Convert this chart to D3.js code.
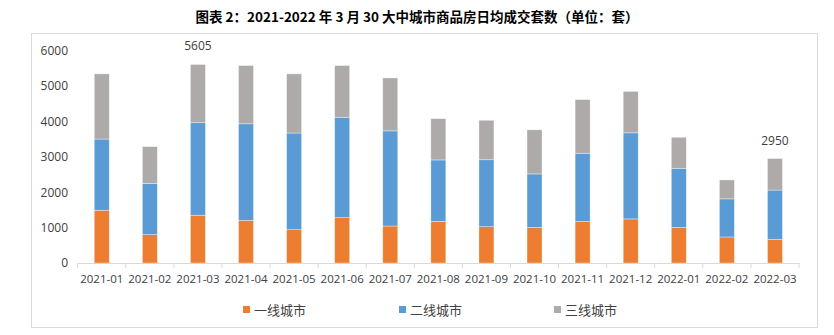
<!DOCTYPE html>
<html>
<head>
<meta charset="utf-8">
<script src="https://cdn.jsdelivr.net/npm/d3@7"></script>
<style>
  body { margin: 0; background: #fff; }
  svg { display: block; font-family: "Noto Sans CJK SC", "Noto Sans", sans-serif; }
</style>
</head>
<body>
<div id="chart"></div>
<script>
// data
var months = ["2021-01", "2021-02", "2021-03", "2021-04", "2021-05", "2021-06", "2021-07", "2021-08",
              "2021-09", "2021-10", "2021-11", "2021-12", "2022-01", "2022-02", "2022-03"];
var tier1 = [1490, 800, 1350, 1200, 940, 1280, 1045, 1175, 1025, 1005, 1170, 1245, 1005, 735, 670];
var tier2 = [2010, 1450, 2610, 2730, 2730, 2835, 2685, 1735, 1890, 1510, 1930, 2430, 1670, 1075, 1390];
var tier3 = [1840, 1035, 1645, 1645, 1670, 1460, 1495, 1165, 1115, 1245, 1515, 1170, 875, 535, 890];
var seriesNames = ["一线城市", "二线城市", "三线城市"];
var yTicks = [0, 1000, 2000, 3000, 4000, 5000, 6000];
var labelled = { "2021-03": 5605, "2022-03": 2950 };

var colors = ["#ED7D31", "#5B9BD5", "#AEAAAA"];
var W = 834, H = 335;

var rows = months.map(function(m, i) {
  return { month: m, a: tier1[i], b: tier2[i], c: tier3[i] };
});

var svg = d3.select("#chart").append("svg")
  .attr("width", W).attr("height", H);

// title
svg.append("text")
  .attr("x", 417).attr("y", 22)
  .attr("text-anchor", "middle")
  .style("font-size", "13.5px")
  .style("font-weight", "bold")
  .style("fill", "#000")
  .text("图表 2：2021-2022 年 3 月 30 大中城市商品房日均成交套数（单位：套）");

// outer frame
svg.append("rect")
  .attr("x", 31.5).attr("y", 33.5)
  .attr("width", 786).attr("height", 294)
  .attr("fill", "none")
  .attr("stroke", "#D9D9D9");

var x = d3.scaleBand().domain(months).range([77.7, 799]).paddingInner(0).paddingOuter(0);
var y = d3.scaleLinear().domain([0, 6000]).range([263, 50.5]);

var stack = d3.stack().keys(["a", "b", "c"])(rows);
var barW = 15;

svg.append("g").selectAll("g")
  .data(stack)
  .enter().append("g")
  .attr("fill", function(d, i) { return colors[i]; })
  .selectAll("rect")
  .data(function(d) { return d; })
  .enter().append("rect")
  .attr("x", function(d) { return x(d.data.month) + x.bandwidth() / 2 - barW / 2; })
  .attr("width", barW)
  .attr("y", function(d) { return y(d[1]); })
  .attr("height", function(d) { return y(d[0]) - y(d[1]); })
  .attr("stroke", "#fff")
  .attr("stroke-opacity", 0.6)
  .attr("stroke-width", 0.6);

// y axis labels
var yAxis = svg.append("g")
  .attr("transform", "translate(68,0)")
  .call(d3.axisLeft(y).tickValues(yTicks).tickFormat(d3.format("d")).tickSize(0).tickPadding(0));
yAxis.select(".domain").remove();
yAxis.selectAll("text")
  .style("font-family", "'Open Sans', 'Noto Sans', sans-serif")
  .style("font-size", "12px")
  .style("fill", "#404040");

// x axis
var xAxis = svg.append("g")
  .attr("transform", "translate(0,263)")
  .call(d3.axisBottom(x).tickSize(0).tickPadding(12));
xAxis.select(".domain").attr("stroke", "#D9D9D9");
xAxis.selectAll("text")
  .style("font-family", "'Open Sans', 'Noto Sans', sans-serif")
  .style("font-size", "11.5px")
  .style("fill", "#404040");
// tick marks at band edges
var edges = months.map(function(m) { return x(m); }).concat([x.range()[1]]);
xAxis.selectAll("line.edge")
  .data(edges)
  .enter().append("line")
  .attr("class", "edge")
  .attr("x1", function(d) { return d; }).attr("x2", function(d) { return d; })
  .attr("y1", 0).attr("y2", 5)
  .attr("stroke", "#D9D9D9");

// data labels
svg.append("g").selectAll("text")
  .data(months.filter(function(m) { return labelled[m] !== undefined; }))
  .enter().append("text")
  .attr("x", function(m) { return x(m) + x.bandwidth() / 2; })
  .attr("y", function(m) { return y(labelled[m]) - 14; })
  .attr("text-anchor", "middle")
  .style("font-family", "'Open Sans', 'Noto Sans', sans-serif")
  .style("font-size", "12px")
  .style("fill", "#404040")
  .text(function(m) { return labelled[m]; });

// legend
var legendX = [243, 399, 554];
var legend = svg.append("g").selectAll("g")
  .data(seriesNames)
  .enter().append("g")
  .attr("transform", function(d, i) { return "translate(" + legendX[i] + ",310)"; });
legend.append("rect")
  .attr("x", 0).attr("y", -4).attr("width", 7).attr("height", 7)
  .attr("fill", function(d, i) { return colors[i]; });
legend.append("text")
  .attr("x", 11).attr("y", 5)
  .style("font-size", "13px")
  .style("fill", "#404040")
  .text(function(d) { return d; });
</script>
</body>
</html>
